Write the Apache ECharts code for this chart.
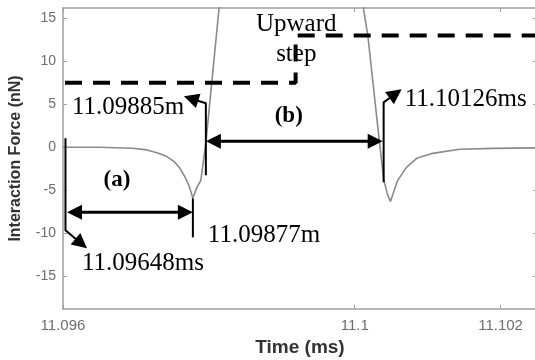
<!DOCTYPE html>
<html>
<head>
<meta charset="utf-8">
<script src="https://cdn.jsdelivr.net/npm/echarts@6/dist/echarts.min.js"></script>
<style>
  html, body { margin: 0; padding: 0; background: #fff; }
  #chart { width: 535px; height: 360px; }
</style>
</head>
<body>
<div id="chart"></div>
<script>
// gray force trace (time in ms, force in nN)
var timeMs = [11.096, 11.0965, 11.09695, 11.09715, 11.0973, 11.09742, 11.09753, 11.0976, 11.09767,
  11.09773, 11.09778, 11.09784, 11.09789, 11.09796, 11.09804, 11.09814, 11.09819,
  11.1001, 11.10012, 11.10018, 11.10034, 11.1004, 11.10045, 11.10049, 11.10059, 11.10071,
  11.10085, 11.10107, 11.10144, 11.10189, 11.1025];
var forceNN = [0, 0, -0.1, -0.3, -0.65, -1.05, -1.7, -2.4, -3.4,
  -4.5, -5.9, -4.6, -3.84, 0.58, 7.56, 16.16, 20,
  20, 16.16, 13, 0.58, -3.84, -5.47, -6.3, -3.84, -2.33,
  -1.28, -0.7, -0.23, -0.12, -0.06];

// dashed setpoint with the upward step
var stepTime = [11.096, 11.09919, 11.09919, 11.1025];
var stepForce = [7.5, 7.5, 13, 13];

var xTicks = [11.096, 11.1, 11.102];
var yTicks = [-15, -10, -5, 0, 5, 10, 15];

// annotation arrows, points in data coords
var arrowPaths = [
  [[11.096034, 1.05], [11.096034, -9.65], [11.096329, -11.74]],
  [[11.096055, -7.56], [11.097781, -7.56]],
  [[11.097781, -5.93], [11.097781, -10.47]],
  [[11.097959, -3.26], [11.097959, 5.12], [11.097658, 5.93]],
  [[11.097959, 0.7], [11.100384, 0.7]],
  [[11.100397, -4.07], [11.100397, 5.23], [11.100644, 6.74]]
];
var arrowHeads = ['end', 'both', 'none', 'end', 'both', 'end'];

var noteTexts = ['11.09885m', '11.10126ms', '11.09648ms', '11.09877m', '(a)', '(b)', 'Upward\nstep'];
var noteTime = [11.096123, 11.100685, 11.09626, 11.097986, 11.09674, 11.099096, 11.099199];
var noteForce = [4.58, 5.6, -13.56, -10.19, -3.8, 3.6, 12.6];

var chart = echarts.init(document.getElementById('chart'));

function head(from, tip) {
  var dx = tip[0] - from[0], dy = tip[1] - from[1];
  var len = Math.sqrt(dx * dx + dy * dy);
  var ux = dx / len, uy = dy / len;
  var L = 15, W = 7.5;
  var bx = tip[0] - ux * L, by = tip[1] - uy * L;
  return {
    type: 'polygon',
    shape: { points: [tip, [bx - uy * W, by + ux * W], [bx + uy * W, by - ux * W]] },
    style: { fill: '#000' }
  };
}

function pullBack(from, tip, d) {
  var dx = tip[0] - from[0], dy = tip[1] - from[1];
  var len = Math.sqrt(dx * dx + dy * dy);
  return [tip[0] - dx / len * d, tip[1] - dy / len * d];
}

function renderArrow(params, api) {
  var pts = arrowPaths[params.dataIndex].map(function (p) { return api.coord(p); });
  var heads = arrowHeads[params.dataIndex];
  var n = pts.length;
  var flat = n === 2 && pts[0][1] === pts[1][1];
  var line = pts.slice();
  var children = [];
  if (heads === 'end' || heads === 'both') {
    children.push(head(pts[n - 2], pts[n - 1]));
    line[n - 1] = pullBack(pts[n - 2], pts[n - 1], 8);
  }
  if (heads === 'both') {
    children.push(head(pts[1], pts[0]));
    line[0] = pullBack(pts[1], pts[0], 8);
  }
  children.unshift({
    type: 'polyline',
    shape: { points: line },
    style: { stroke: '#000', lineWidth: flat ? 3 : 2, fill: null }
  });
  return { type: 'group', children: children };
}

function renderNote(params, api) {
  var p = api.coord([api.value(0), api.value(1)]);
  var txt = noteTexts[params.dataIndex];
  var bold = txt.charAt(0) === '(';
  var centered = bold || txt.indexOf('\n') >= 0;
  return {
    type: 'text',
    x: p[0],
    y: p[1],
    style: {
      text: txt,
      fill: '#000',
      font: (bold ? 'bold 23px' : '25px') + ' "Liberation Serif", serif',
      align: centered ? 'center' : 'left',
      verticalAlign: 'middle',
      lineHeight: 30
    }
  };
}

var boxLine = { lineStyle: { color: '#a0a0a0', width: 1.5 }, onZero: false };
var tickStyle = { color: '#a0a0a0', width: 1 };

chart.setOption({
  animation: false,
  grid: { left: 63, top: 8, width: 474, height: 301, outerBoundsMode: 'none' },
  xAxis: [{
    type: 'value', min: 11.096, max: 11.1025, position: 'bottom',
    name: 'Time (ms)', nameLocation: 'middle', nameGap: 29,
    nameTextStyle: { fontFamily: 'Liberation Sans', fontWeight: 'bold', fontSize: 19, color: '#333' },
    axisLine: boxLine,
    axisTick: { inside: true, length: 4, customValues: xTicks, lineStyle: tickStyle },
    axisLabel: { customValues: xTicks, margin: 9, fontSize: 15, color: '#6e6e6e', fontFamily: 'Liberation Sans' },
    splitLine: { show: false }
  }, {
    type: 'value', min: 11.096, max: 11.1025, position: 'top',
    axisLine: boxLine,
    axisTick: { inside: true, length: 4, customValues: xTicks, lineStyle: tickStyle },
    axisLabel: { show: false },
    splitLine: { show: false }
  }],
  yAxis: [{
    type: 'value', min: -18.8, max: 16.2, position: 'left',
    name: 'Interaction Force (nN)', nameLocation: 'middle', nameGap: 39,
    nameTextStyle: { fontFamily: 'Liberation Sans', fontWeight: 'bold', fontSize: 16, color: '#333' },
    axisLine: boxLine,
    axisTick: { inside: true, length: 4, customValues: yTicks, lineStyle: tickStyle },
    axisLabel: { customValues: yTicks, margin: 7, fontSize: 14, color: '#6e6e6e', fontFamily: 'Liberation Sans' },
    splitLine: { show: false }
  }, {
    type: 'value', min: -18.8, max: 16.2, position: 'right',
    axisLine: boxLine,
    axisTick: { inside: true, length: 4, customValues: yTicks, lineStyle: tickStyle },
    axisLabel: { show: false },
    splitLine: { show: false }
  }],
  series: [{
    type: 'line',
    data: timeMs.map(function (t, i) { return [t, forceNN[i]]; }),
    showSymbol: false,
    smooth: false,
    clip: true,
    lineStyle: { color: '#8a8a8a', width: 1.6 },
    z: 2
  }, {
    type: 'line',
    data: stepTime.map(function (t, i) { return [t, stepForce[i]]; }),
    showSymbol: false,
    clip: true,
    lineStyle: { color: '#000', width: 4, type: [17, 11], dashOffset: 26 },
    z: 3
  }, {
    type: 'custom',
    renderItem: renderArrow,
    data: arrowPaths.map(function (p) { return p[0]; }),
    z: 4
  }, {
    type: 'custom',
    renderItem: renderNote,
    data: noteTime.map(function (t, i) { return [t, noteForce[i]]; }),
    z: 5
  }]
});
</script>
</body>
</html>
